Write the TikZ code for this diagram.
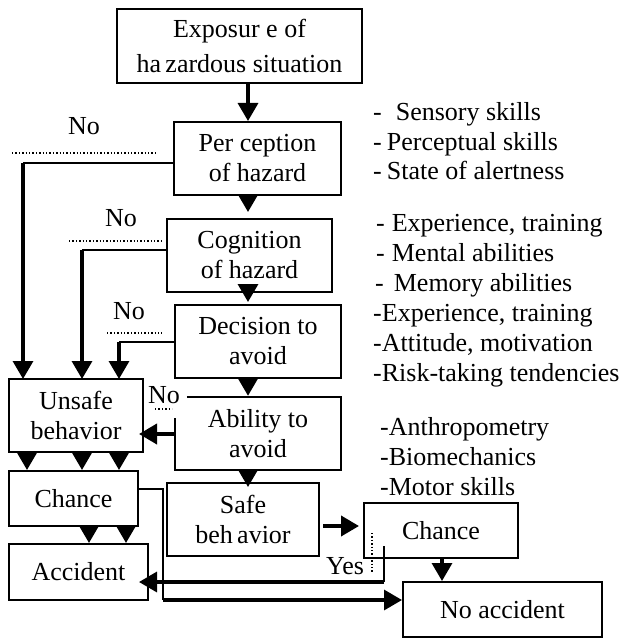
\documentclass[tikz,border=0pt]{standalone}
\usepackage{fontspec}
\setmainfont{Liberation Serif}
\usetikzlibrary{arrows.meta}
\begin{document}
\begin{tikzpicture}[x=1pt,y=-1pt,
  every node/.style={font=\fontsize{26}{30}\selectfont, inner sep=0pt},
  box/.style={draw, line width=2pt, align=center},
  lbl/.style={anchor=base west},
  head/.style={-{Triangle[length=18pt,width=20pt]}},
  thick3/.style={line width=3.3pt},
  thin2/.style={line width=2pt},
  dots/.style={line width=1.4pt, dotted}
]
\useasboundingbox (0,0) rectangle (627,639);
% boxes
\node[box, minimum width=245pt, minimum height=74pt, font=\fontsize{26}{35}\selectfont] (expo) at (239.5,46) {Exposur e of\\ha\,zardous situation};
\node[box, minimum width=167pt, minimum height=73pt] (perc) at (257.5,158.5) {Per ception\\of hazard};
\node[box, minimum width=165pt, minimum height=73pt] (cogn) at (249.5,255.5) {Cognition\\of hazard};
\node[box, minimum width=166pt, minimum height=73pt] (deci) at (258,341.5) {Decision to\\avoid};
\node[align=center, minimum width=166pt, minimum height=73pt] (abil) at (258,433.5) {Ability to\\avoid};
\draw[thin2] ([xshift=12pt]abil.north west) -- (abil.north east) -- (abil.south east) -- (abil.south west) -- ([yshift=-21pt]abil.north west);
\node[box, minimum width=152pt, minimum height=73pt] (safe) at (243,519.5) {Safe\\beh\,avior};
\node[box, minimum width=134pt, minimum height=73pt] (unsafe) at (76,415.5) {Unsafe\\behavior};
\node[box, minimum width=129pt, minimum height=55pt] (chanceL) at (73.5,498.5) {Chance};
\node[box, minimum width=139pt, minimum height=56pt] (acc) at (78.5,572) {Accident};
\node[box, minimum width=154pt, minimum height=55pt] (chanceR) at (441,530.5) {Chance};
\node[box, minimum width=199pt, minimum height=55pt] (noacc) at (502.5,609.5) {No accident};

% main vertical arrows (all at x = 248)
\draw[head, thick3] ([xshift=8.5pt]expo.south) -- ([xshift=-9.5pt]perc.north);
\draw[head, thick3, shorten >=6pt] ([xshift=-9.5pt]perc.south) -- ([xshift=-1.5pt]cogn.north);
\draw[head, thick3, shorten >=2pt] ([xshift=-1.5pt,yshift=7pt]cogn.south) -- ([xshift=-10pt]deci.north);
\draw[head, thick3, shorten >=1pt] ([xshift=-10pt]deci.south) -- ([xshift=-10pt]abil.north);
\draw[head, thick3, shorten >=-5pt] ([xshift=-10pt]abil.south) -- ([xshift=5pt]safe.north);

% unsafe -> chance (left)
\foreach \dx in {19,74,111}
  \draw[head, thick3] ([xshift=\dx pt]unsafe.south west) -- ([xshift=\dx pt]chanceL.north west);
% chance (left) -> accident
\foreach \dx in {81,118}
  \draw[head, thick3] ([xshift=\dx pt]chanceL.south west) -- ([xshift=\dx pt]acc.north west);
% chance (right) -> no accident
\draw[head, thick3] ([xshift=79pt]chanceR.south west) -- ([xshift=40pt]noacc.north west);

% safe -> chance (right)
\draw[head, line width=3.8pt, shorten <=3pt, shorten >=4pt] ([yshift=-6.5pt]safe.east) -- ([yshift=4.5pt]chanceR.west);

% ability -> unsafe
\draw[head, line width=3.8pt, shorten >=-5pt] ([yshift=-0.5pt]abil.west) -- ([yshift=-18.5pt]unsafe.east);

% "No" branches into unsafe behavior
\path ([yshift=-4.5pt]perc.west) coordinate (p1);
\path ([xshift=15pt]unsafe.north west) coordinate (u1);
\coordinate (k1) at (u1 |- p1);
\draw[thin2] (p1) -- (k1);
\draw[head, thick3, shorten >=-1pt] (k1) -- (u1);

\path ([yshift=5.5pt]cogn.west) coordinate (p2);
\path ([xshift=74pt]unsafe.north west) coordinate (u2);
\coordinate (k2) at (u2 |- p2);
\draw[thin2] (p2) -- (k2);
\draw[head, thick3, shorten >=-1pt] (k2) -- (u2);

\path ([yshift=-0.5pt]deci.west) coordinate (p3);
\path ([xshift=111pt]unsafe.north west) coordinate (u3);
\coordinate (k3) at (u3 |- p3);
\draw[thin2] (p3) -- (k3);
\draw[head, thick3, shorten >=-1pt] (k3) -- (u3);

% chance (left) -> no accident
\path ([yshift=9.5pt]chanceL.east) coordinate (c1);
\coordinate (kc) at (163,489);
\coordinate (kd) at (163,600);
\path ([yshift=9.5pt]noacc.west) coordinate (n1);
\draw[thin2] (c1) -- (kc) -- (kd);
\draw[head, thick3] (kd) -- (n1);

% chance (right) -> accident (Yes)
\path ([xshift=21pt,yshift=13pt]chanceR.south west) coordinate (y1);
\path ([yshift=-10pt]acc.east) coordinate (a1);
\coordinate (ky) at (y1 |- a1);
\draw[thin2] (y1) -- (ky);
\draw[head, thick3, shorten >=-10pt] (ky) -- (a1);

% labels
\node (no1) at (84,126) {No};
\draw[dots] (12,153) -- (157,153);
\node (no2) at (121,218) {No};
\draw[dots] (69,241) -- (163,241);
\node (no3) at (129,311) {No};
\draw[dots] (107,333) -- (162,333);
\node (no4) at (164,395) {No};
\draw[dots] (155,409) -- (172,409);
\node (yes) at (345,566) {Yes};
\draw[dots] (372,533) -- (372,573);

% factor lists
\node[lbl] (s1) at (373,121) {-\hspace{14pt}Sensory skills};
\node[lbl] (s2) at (373,150) {-\hspace{5pt}Perceptual skills};
\node[lbl] (s3) at (373,179) {-\hspace{5pt}State of alertness};
\node[lbl] (m1) at (376,231) {-\hspace{7pt}Experience, training};
\node[lbl] (m2) at (376,261) {-\hspace{7pt}Mental abilities};
\node[lbl] (m3) at (375,291) {-\hspace{10pt}Memory abilities};
\node[lbl] (d1) at (373,321) {-Experience, training};
\node[lbl] (d2) at (373,351) {-Attitude, motivation};
\node[lbl] (d3) at (373,381) {-Risk-taking tendencies};
\node[lbl] (a1t) at (380,435) {-Anthropometry};
\node[lbl] (a2t) at (380,465) {-Biomechanics};
\node[lbl] (a3t) at (380,495) {-Motor skills};
\end{tikzpicture}
\end{document}
